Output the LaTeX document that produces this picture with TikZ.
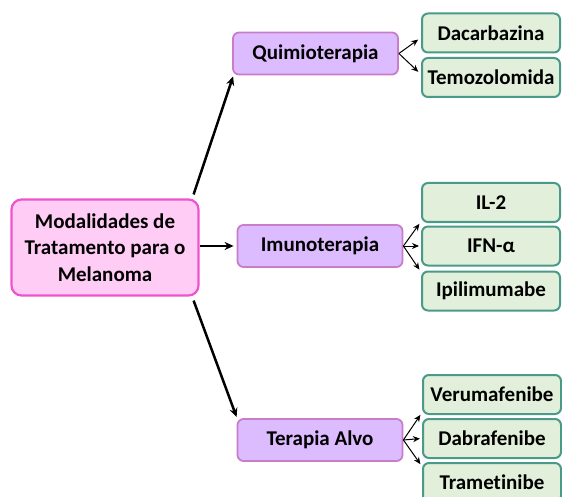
\documentclass[tikz,border=0pt]{standalone}
\usepackage{fontspec}
\setmainfont{Carlito}[Ligatures={NoCommon}]
\usetikzlibrary{arrows.meta}
\definecolor{mainfill}{HTML}{FFCCF5}
\definecolor{mainline}{HTML}{EE55CC}
\definecolor{midfill}{HTML}{DDBBFF}
\definecolor{midline}{HTML}{C97DC9}
\definecolor{leaffill}{HTML}{E2EFDA}
\definecolor{leafline}{HTML}{4A9A8A}
\tikzset{
  base/.style={rounded corners=6pt, line width=1.8pt, inner sep=0pt, align=center, font=\fontsize{21}{26.7}\selectfont\bfseries},
  mainbox/.style={base, draw=mainline, fill=mainfill, rounded corners=10pt, line width=2.2pt, minimum width=187pt, minimum height=96pt},
  midbox/.style={base, draw=midline, fill=midfill, minimum width=165pt, minimum height=42pt},
  leafbox/.style={base, draw=leafline, fill=leaffill, line width=2pt, minimum width=138pt, minimum height=39pt},
  bigarrow/.style={line width=2.5pt, -{Stealth[length=9pt,width=8pt]}},
  smallarrow/.style={line width=1pt, -{Stealth[length=7pt,width=6pt]}, shorten >=1pt}
}
\begin{document}
\begin{tikzpicture}[x=1pt,y=-1pt]
\useasboundingbox (0,0) rectangle (562,497);
\clip (0,0) rectangle (562,497);
\node[mainbox] (main) at (105,247.5) {Modalidades de\\Tratamento para o\\Melanoma};
\node[midbox] (quimio) at (315.5,53.5) {Quimioterapia};
\node[midbox] (imuno) at (320,246) {Imunoterapia};
\node[midbox] (alvo) at (320,440) {Terapia Alvo};
\node[leafbox] (dac) at (491,33) {Dacarbazina};
\node[leafbox] (tem) at (491,77.5) {Temozolomida};
\node[leafbox] (il) at (491,202.5) {IL-2};
\node[leafbox] (ifn) at (491,246) {IFN-α};
\node[leafbox] (ipi) at (491,291) {Ipilimumabe};
\node[leafbox] (ver) at (492,394.5) {Verumafenibe};
\node[leafbox] (dab) at (492,438.5) {Dabrafenibe};
\node[leafbox] (tra) at (492,482.5) {Trametinibe};
\draw[bigarrow] ([xshift=-6pt,yshift=4pt]main.north east) -- ([xshift=1pt,yshift=-1pt]quimio.south west);
\draw[bigarrow] (main.east |- imuno.west) -- ([xshift=-3pt]imuno.west);
\draw[bigarrow] ([xshift=-6pt,yshift=-4pt]main.south east) -- ([yshift=1pt]alvo.north west);
\draw[smallarrow] (quimio.east) -- ([xshift=-2pt,yshift=-6pt]dac.west);
\draw[smallarrow] (quimio.east) -- ([xshift=-2pt,yshift=5pt]tem.west);
\draw[smallarrow] (imuno.east) -- ([xshift=-1pt]il.south west);
\draw[smallarrow] (imuno.east) -- ([xshift=-1pt]ifn.west);
\draw[smallarrow] (imuno.east) -- ([xshift=-1pt]ipi.north west);
\draw[smallarrow] (alvo.east) -- ([xshift=-1pt,yshift=1pt]ver.south west);
\draw[smallarrow] (alvo.east) -- ([xshift=-1pt]dab.west);
\draw[smallarrow] (alvo.east) -- ([xshift=-1pt,yshift=-3pt]tra.north west);
\end{tikzpicture}
\end{document}
